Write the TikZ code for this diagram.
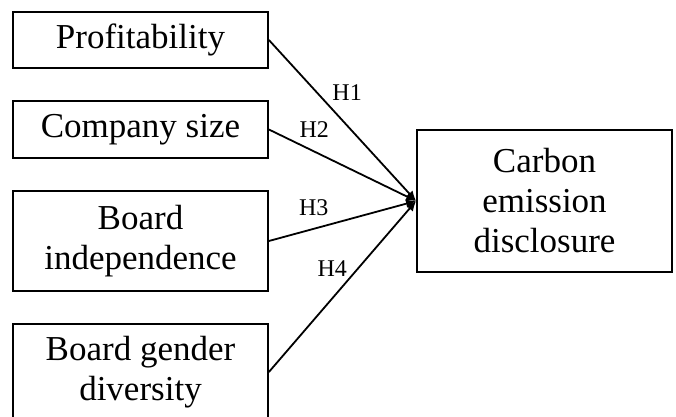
\documentclass[tikz,border=0pt]{standalone}
\usepackage{fontspec}
\setmainfont{Liberation Serif}
\usetikzlibrary{arrows.meta,positioning}

\begin{document}
\begin{tikzpicture}[
    x=0.5pt, y=-0.5pt,
    line width=0.9pt,
    var/.style={rectangle, draw, minimum width=127.5pt, align=center,
        font=\fontsize{17.5}{20}\selectfont},
    hyp/.style={font=\fontsize{12}{14}\selectfont, inner sep=0pt},
    arrow/.style={-{Latex[length=5pt,width=4.5pt]}}
]
    \useasboundingbox (0,0) rectangle (676,417);

    % Independent variables
    \node[var, minimum height=28pt] (prof) at (140.5,40) {Profitability};
    \node[var, minimum height=28.5pt] (size) at (140.5,129.5) {Company size};
    \node[var, minimum height=50pt] (indep) at (140.5,241) {Board\\independence};
    \node[var, minimum height=48pt] (gender) at (140.5,372) {Board gender\\diversity};

    % Dependent variable
    \node[var, minimum height=71pt] (ced) at (544.5,201) {Carbon\\emission\\disclosure};

    % Hypotheses
    \draw[arrow] (prof.east) -- node[hyp, pos=0.42, xshift=8.2pt, yshift=7.6pt] (h1) {H1} (ced.west);
    \draw[arrow] (size.east) -- node[hyp, pos=0.25, xshift=4.3pt, yshift=8.9pt] (h2) {H2} (ced.west);
    \draw[arrow] (indep.east) -- node[hyp, pos=0.34, xshift=-2.6pt, yshift=9.7pt] (h3) {H3} (ced.west);
    \draw[arrow] (gender.east) -- node[hyp, pos=0.53, xshift=-7.3pt, yshift=6.4pt] (h4) {H4} (ced.west);
\end{tikzpicture}
\end{document}
